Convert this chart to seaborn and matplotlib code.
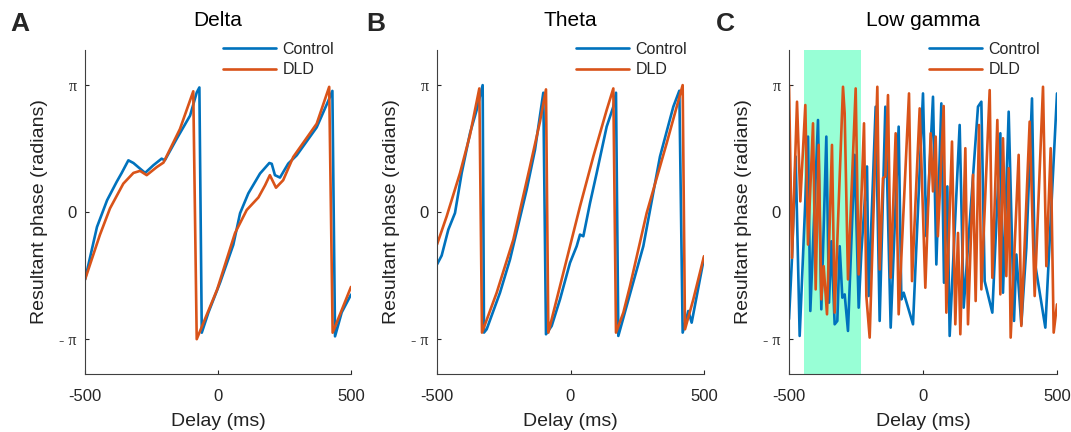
import numpy as np
import pandas as pd
import matplotlib
matplotlib.use("Agg")
import matplotlib.pyplot as plt
import seaborn as sns

# ---------------- data ----------------
groups = ["Control", "DLD"]
titles = ["Delta", "Theta", "Low gamma"]
letters = ["A", "B", "C"]
x_ticks = [-500, 0, 500]
x_tick_labels = ["-500", "0", "500"]
y_ticks = [-np.pi, 0, np.pi]
y_tick_labels = ["- \u03c0", "0", "\u03c0"]
highlight_c = (-444, -231)

delta_ctrl_x = [-500, -455, -417, -381, -362, -337, -318, -293, -274, -243, -212, -200, -155, -105, -80, -70,
                -61, -36, 8, 57.5, 83, 114, 158, 193, 202, 214, 233, 264, 296, 371, 415, 430, 440, 465, 500]
delta_ctrl_y = [-1.67, -0.37, 0.29, 0.744, 0.965, 1.276, 1.21, 1.07, 0.965, 1.154, 1.317, 1.276, 1.81, 2.38, 2.95, 3.075,
                -2.98, -2.48, -1.74, -0.81, -0.03, 0.46, 0.95, 1.21, 1.19, 0.91, 0.85, 1.195, 1.40, 2.09, 2.75, 2.99,
                -3.07, -2.48, -2.04]
delta_dld_x = [-500, -444, -406, -356, -318, -293, -268, -230, -205, -143, -93, -80, -3, 64, 108, 152, 177, 195,
               218, 245, 283, 371, 418, 431, 500]
delta_dld_y = [-1.67, -0.565, 0.09, 0.70, 0.965, 1.015, 0.91, 1.11, 1.22, 2.05, 2.98, -3.14, -1.91, -0.52, 0.05,
               0.36, 0.66, 0.91, 0.60, 0.785, 1.36, 2.18, 3.09, -2.98, -1.85]

theta_ctrl_x = [-500, -482.5, -457.6, -432.6, -407.6, -376.4, -351.4, -329.0, -324.0, -314.0, -264.1, -226.6,
                -164.2, -133.0, -101.8, -91.8, -70.5, -39.3, -1.9, 23.1, 35.6, 48.1, 73.1, 98.0, 135.5, 160.4,
                170.4, 179.1, 210.3, 272.7, 335.2, 385.1, 407.6, 420.1, 441.3, 453.8, 500]
theta_ctrl_y = [-1.296, -1.075, -0.435, -0.025, 0.960, 1.944, 2.518, 3.133, -2.978, -2.896, -1.993, -1.173,
                0.550, 1.534, 2.945, -3.019, -2.814, -2.157, -1.255, -0.845, -0.558, -0.599, 0.221, 0.960, 2.108,
                2.600, 2.945, -3.060, -2.321, -0.845, 1.370, 2.600, 2.994, -2.978, -2.444, -2.732, -1.132]
theta_dld_x = [-500, -463.8, -413.9, -376.4, -341.5, -331.5, -276.5, -214.1, -151.7, -114.3, -91.8, -83.0,
               -39.3, 35.6, 85.5, 135.5, 160.4, 170.4, 197.9, 222.8, 285.3, 360.2, 420.1, 428.8, 460.0, 500]
theta_dld_y = [-0.804, -0.107, 0.960, 1.903, 3.051, -2.978, -1.993, -0.681, 1.124, 2.231, 3.027, -2.978,
               -1.829, 0.139, 1.370, 2.518, 3.051, -2.978, -2.485, -1.829, -0.025, 1.698, 3.133, -2.896, -2.157,
               -1.091]

gamma_ctrl_x = [-500, -488.8, -475.1, -460.2, -429.1, -420.4, -391.8, -379.4, -360.7, -350.7, -342.0, -329.6,
                -319.7, -310.9, -301.0, -292.3, -279.9, -255.0, -240.0, -230.1, -208.9, -202.7, -176.6, -161.7,
                -140.5, -120.6, -90.8, -80.8, -72.1, -37.3, 0.0, 12.4, 37.3, 49.8, 68.4, 78.4, 90.8, 99.5,
                136.8, 151.7, 205.2, 217.7, 230.1, 258.7, 288.6, 298.5, 319.7, 339.6, 348.3, 366.9, 385.6,
                406.7, 416.7, 456.5, 500]
gamma_ctrl_y = [-2.649, -1.132, 1.370, -3.060, 1.862, -2.444, 2.272, -2.403, 1.862, -2.239, -0.722, -2.773,
                -2.690, -0.845, -2.116, -2.034, -2.937, 1.411, -2.362, -1.009, 1.124, -2.075, 2.600, -2.690,
                2.600, -2.855, 2.108, -2.157, -1.993, -2.773, 2.928, -0.599, 2.846, -1.296, 2.682, -1.747,
                0.632, -3.060, 2.149, -2.362, 2.600, 2.723, -1.706, -2.485, 1.944, -1.993, 2.477, -2.690,
                -1.050, -2.773, -0.886, 2.805, -1.214, -2.855, 2.928]
gamma_dld_x = [-500, -488.8, -470.1, -457.7, -439.1, -429.1, -410.4, -400.5, -389.3, -379.4, -370.6, -358.2,
               -339.6, -329.6, -298.5, -292.3, -279.9, -251.2, -240.0, -220.1, -211.4, -199.0, -170.4, -161.7,
               -149.3, -140.5, -130.6, -120.6, -102.0, -90.8, -52.2, -41.0, -12.4, 8.7, 28.6, 37.3, 47.3, 55.5,
               77.1, 87.1, 108.2, 120.6, 130.6, 139.3, 158.0, 167.9, 186.6, 196.5, 209.0, 217.7, 248.8, 258.7,
               277.4, 288.6, 298.5, 310.9, 319.7, 327.1, 356.9, 366.9, 398.0, 416.7, 447.8, 460.2, 476.4,
               487.6, 500]
gamma_dld_y = [3.133, -1.132, 2.723, 0.262, 2.641, -0.804, 2.190, -1.911, 1.657, -2.157, -1.337, -2.526,
               1.657, -2.485, 3.092, 2.436, -1.665, 3.051, -1.542, 2.190, -2.075, -3.101, 3.092, -1.419, 0.837,
               0.878, 2.887, -1.624, 1.944, -2.526, 2.928, -1.706, 2.559, -1.870, 1.944, 0.509, 1.862, -0.599,
               2.617, -2.485, 1.739, -2.773, -0.517, -3.019, 1.575, -2.773, 0.919, -2.198, 2.149, -1.911, 3.010,
               -1.624, 2.272, -2.034, 1.821, -1.583, 1.083, -3.101, 1.411, -2.814, 2.231, -2.075, 3.092, -1.337,
               1.575, -2.978, -2.280]

panels = [
    (delta_ctrl_x, delta_ctrl_y, delta_dld_x, delta_dld_y),
    (theta_ctrl_x, theta_ctrl_y, theta_dld_x, theta_dld_y),
    (gamma_ctrl_x, gamma_ctrl_y, gamma_dld_x, gamma_dld_y),
]

# ---------------- style ----------------
sns.set_style("ticks")
plt.rcParams["font.family"] = ["Liberation Sans", "DejaVu Sans"]
plt.rcParams["axes.linewidth"] = 0.8
AX_COLOR = "#404040"
palette = {"Control": "#0072BD", "DLD": "#D95319"}

fig = plt.figure(figsize=(10.71, 4.32), dpi=100)
W, H = 1071, 432
lefts = [85, 437, 789]
widths = [266, 267, 268]
ax_top, ax_bot = 50, 374
letter_x = [10, 366, 716]

for i, (cx, cy, dx, dy) in enumerate(panels):
    ax = fig.add_axes([lefts[i] / W, 1 - ax_bot / H, widths[i] / W, (ax_bot - ax_top) / H])
    df = pd.concat([
        pd.DataFrame({"Delay": cx, "Phase": cy, "Group": "Control"}),
        pd.DataFrame({"Delay": dx, "Phase": dy, "Group": "DLD"}),
    ], ignore_index=True)
    if i == 2:
        ax.axvspan(highlight_c[0], highlight_c[1], color="#98FFD6", zorder=0, lw=0)
    sns.lineplot(data=df, x="Delay", y="Phase", hue="Group", hue_order=groups, palette=palette,
                 estimator=None, sort=False, linewidth=1.9, ax=ax, legend=True)
    ax.set_xlim(-500, 500)
    ax.set_ylim(-4, 4)
    ax.set_xticks(x_ticks)
    ax.set_xticklabels(x_tick_labels)
    ax.set_yticks(y_ticks)
    ax.set_yticklabels(y_tick_labels)
    for k, lab in enumerate(ax.get_yticklabels()):
        if k != 1:
            lab.set_fontfamily(["Liberation Serif", "DejaVu Serif"])
            lab.set_fontsize(11.5)
        else:
            lab.set_fontsize(12)
    for lab in ax.get_xticklabels():
        lab.set_fontsize(12)
    ax.tick_params(direction="in", length=3, width=0.8, colors="#262626", pad=11)
    ax.tick_params(axis="y", pad=6)
    for s in ["top", "right"]:
        ax.spines[s].set_visible(False)
    for s in ["left", "bottom"]:
        ax.spines[s].set_color(AX_COLOR)
    ax.set_xlabel("Delay (ms)", fontsize=14, color="#222222", labelpad=6)
    ax.set_ylabel("Resultant phase (radians)", fontsize=14, color="#222222", labelpad=8)
    ax.set_title(titles[i], fontsize=15, pad=17, color="black")
    handles, labels = ax.get_legend_handles_labels()
    ax.legend(handles=handles, labels=labels, loc="upper right", bbox_to_anchor=(0.96, 1.045),
              frameon=False, fontsize=11.5, handlelength=3.3, handletextpad=0.4, labelspacing=0.35,
              borderaxespad=0)
    fig.text(letter_x[i] / W, 1 - 31 / H, letters[i], fontsize=19, fontweight="bold", va="baseline")

fig.savefig("out.png", dpi=100)
